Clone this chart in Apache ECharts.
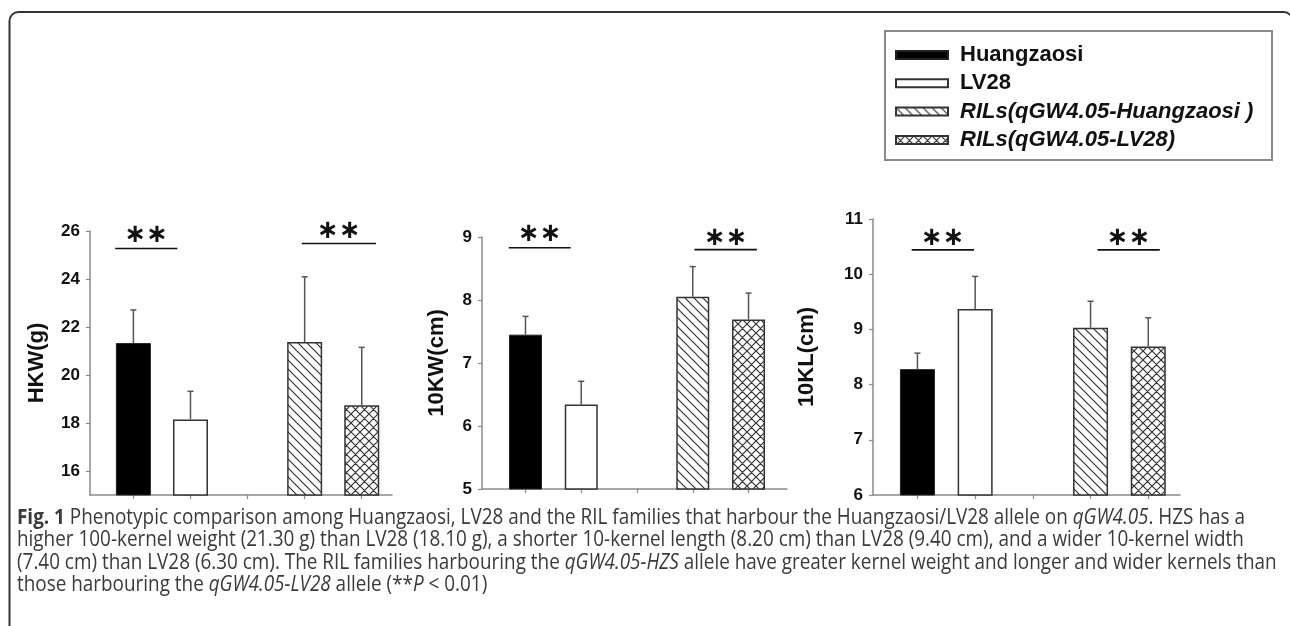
<!DOCTYPE html>
<html>
<head>
<meta charset="utf-8">
<script src="https://cdn.jsdelivr.net/npm/echarts@6/dist/echarts.min.js"></script>
<style>
html, body { margin: 0; padding: 0; background: #fff; }
#main { width: 1290px; height: 626px; }
</style>
</head>
<body>
<div id="main"></div>
<script>
// four groups, one bar each; x = 3 is the empty gap
var seriesNames = ['Huangzaosi', 'LV28', 'RILs(qGW4.05-Huangzaosi )', 'RILs(qGW4.05-LV28)'];
var barPos = [1, 2, 4, 5];

// HKW(g): mean and top of error bar
var hkwMean = [21.33, 18.15, 21.37, 18.74];
var hkwUpper = [22.71, 19.32, 24.09, 21.15];
// 10KW(cm)
var kwMean = [7.45, 6.34, 8.05, 7.69];
var kwUpper = [7.74, 6.71, 8.53, 8.11];
// 10KL(cm)
var klMean = [8.28, 9.37, 9.03, 8.69];
var klUpper = [8.57, 9.96, 9.51, 9.21];

// significance marks: [x from, x to, line y, star y]
var hkwSig = [[0.68, 1.77, 25.27, 25.82], [3.95, 5.25, 25.48, 26.0]];
var kwSig = [[0.70, 1.81, 8.83, 9.04], [4.03, 5.15, 8.80, 8.98]];
var klSig = [[0.90, 1.98, 10.44, 10.66], [4.12, 5.20, 10.44, 10.66]];

// y tick labels
var hkwTicks = [16, 18, 20, 22, 24, 26];
var kwTicks = [5, 6, 7, 8, 9];
var klTicks = [6, 7, 8, 9, 10, 11];
var xTicks = [1, 2, 3, 4, 5];

var FONT = 'Liberation Sans, Arial, sans-serif';
var CAPFONT = 'Open Sans, sans-serif';

function makePattern(cross) {
    var s = 9;
    var c = document.createElement('canvas');
    c.width = s; c.height = s;
    var g = c.getContext('2d');
    g.fillStyle = '#fff';
    g.fillRect(0, 0, s, s);
    g.strokeStyle = '#333';
    g.lineWidth = 1.2;
    g.beginPath();
    // "\" lines
    g.moveTo(-1, -1); g.lineTo(s + 1, s + 1);
    g.moveTo(-1, s - 1); g.lineTo(1, s + 1);
    g.moveTo(s - 1, -1); g.lineTo(s + 1, 1);
    if (cross) {
        // "/" lines
        g.moveTo(-1, s + 1); g.lineTo(s + 1, -1);
        g.moveTo(-1, 1); g.lineTo(1, -1);
        g.moveTo(s - 1, s + 1); g.lineTo(s + 1, s - 1);
    }
    g.stroke();
    return { image: c, repeat: 'repeat' };
}

var barStyles = [
    { color: '#000', borderColor: '#222', borderWidth: 1 },
    { color: '#fff', borderColor: '#333', borderWidth: 1.5 },
    { color: makePattern(false), borderColor: '#333', borderWidth: 1.5 },
    { color: makePattern(true), borderColor: '#333', borderWidth: 1.5 }
];

var panels = [
    { name: 'HKW(g)', mean: hkwMean, upper: hkwUpper, sig: hkwSig, ticks: hkwTicks, min: 15, max: 26,
      grid: { left: 90, top: 231, width: 302, height: 264 }, xMin: 0.24, xMax: 5.53, nameGap: 42, barWidth: 35 },
    { name: '10KW(cm)', mean: kwMean, upper: kwUpper, sig: kwSig, ticks: kwTicks, min: 5, max: 9,
      grid: { left: 482, top: 237, width: 305, height: 252 }, xMin: 0.22, xMax: 5.69, nameGap: 34, barWidth: 33 },
    { name: '10KL(cm)', mean: klMean, upper: klUpper, sig: klSig, ticks: klTicks, min: 6, max: 11,
      grid: { left: 873, top: 219, width: 307, height: 276 }, xMin: 0.23, xMax: 5.55, nameGap: 55, barWidth: 35 }
];

var grids = [], xAxes = [], yAxes = [], series = [];
var axisColor = '#8a8a8a';

panels.forEach(function (p, i) {
    grids.push(p.grid);
    xAxes.push({
        type: 'value', gridIndex: i, min: p.xMin, max: p.xMax,
        axisLine: { show: true, lineStyle: { color: axisColor, width: 1.5 } },
        axisTick: { show: true, length: 4, customValues: xTicks, lineStyle: { color: axisColor, width: 1.2 } },
        axisLabel: { show: false },
        splitLine: { show: false }
    });
    yAxes.push({
        type: 'value', gridIndex: i, min: p.min, max: p.max,
        name: p.name, nameLocation: 'middle', nameGap: p.nameGap,
        nameTextStyle: { fontFamily: FONT, fontWeight: 'bold', fontSize: 22, color: '#111' },
        axisLine: { show: true, lineStyle: { color: axisColor, width: 1.5 } },
        axisTick: { show: true, length: 4, customValues: p.ticks, lineStyle: { color: axisColor, width: 1.2 } },
        axisLabel: { customValues: p.ticks, margin: 10, fontFamily: FONT, fontWeight: 'bold', fontSize: 17, color: '#111' },
        splitLine: { show: false }
    });
    seriesNames.forEach(function (n, j) {
        series.push({
            type: 'bar', name: n, xAxisIndex: i, yAxisIndex: i,
            data: [[barPos[j], p.mean[j]]],
            barWidth: p.barWidth, barGap: '-100%',
            itemStyle: barStyles[j], silent: true
        });
    });
    // error bars (upper half only)
    series.push({
        type: 'custom', xAxisIndex: i, yAxisIndex: i, silent: true, z: 3,
        data: barPos.map(function (x, j) { return [x, p.mean[j], p.upper[j]]; }),
        renderItem: function (params, api) {
            var a = api.coord([api.value(0), api.value(1)]);
            var b = api.coord([api.value(0), api.value(2)]);
            var st = { stroke: '#555', lineWidth: 1.5 };
            return { type: 'group', children: [
                { type: 'line', shape: { x1: a[0], y1: a[1], x2: b[0], y2: b[1] }, style: st },
                { type: 'line', shape: { x1: b[0] - 3, y1: b[1], x2: b[0] + 3, y2: b[1] }, style: st }
            ] };
        }
    });
    // significance lines and stars
    series.push({
        type: 'custom', xAxisIndex: i, yAxisIndex: i, silent: true, z: 3,
        data: p.sig,
        renderItem: function (params, api) {
            var a = api.coord([api.value(0), api.value(2)]);
            var b = api.coord([api.value(1), api.value(2)]);
            var s = api.coord([(api.value(0) + api.value(1)) / 2, api.value(3)]);
            return { type: 'group', children: [
                { type: 'line', shape: { x1: a[0], y1: a[1], x2: b[0], y2: b[1] }, style: { stroke: '#111', lineWidth: 1.6 } },
                { type: 'text', x: s[0], y: s[1], style: { text: '\u2217\u2217', fontFamily: 'DejaVu Sans', fontSize: 26, fontWeight: 'bold',
                    fill: '#111', align: 'center', verticalAlign: 'middle' } }
            ] };
        }
    });
});

var captionStyle = { fontFamily: CAPFONT, fontSize: 21, fill: '#3a3a3a' };
var captionRich = {
    b: { fontFamily: CAPFONT, fontSize: 21, fontWeight: 'bold', color: '#111' },
    i: { fontFamily: CAPFONT, fontSize: 21, fontStyle: 'italic', color: '#3a3a3a' }
};
var captionLines = [
    '{b|Fig. 1} Phenotypic comparison among Huangzaosi, LV28 and the RIL families that harbour the Huangzaosi/LV28 allele on {i|qGW4.05}. HZS has a',
    'higher 100-kernel weight (21.30 g) than LV28 (18.10 g), a shorter 10-kernel length (8.20 cm) than LV28 (9.40 cm), and a wider 10-kernel width',
    '(7.40 cm) than LV28 (6.30 cm). The RIL families harbouring the {i|qGW4.05-HZS} allele have greater kernel weight and longer and wider kernels than',
    'those harbouring the {i|qGW4.05-LV28} allele (**{i|P} < 0.01)'
];

var graphics = [
    { type: 'rect', shape: { x: 9.5, y: 12, width: 1283, height: 700, r: 9 }, style: { fill: 'none', stroke: '#333', lineWidth: 2 }, silent: true },
    { type: 'rect', shape: { x: 885, y: 31, width: 387, height: 129 }, style: { fill: 'none', stroke: '#888', lineWidth: 2 }, silent: true }
];
captionLines.forEach(function (t, k) {
    graphics.push({
        type: 'text', x: 17, y: 518 + k * 22.5, scaleX: 0.9, silent: true,
        style: Object.assign({ text: t, rich: captionRich, verticalAlign: 'middle' }, captionStyle)
    });
});

var myChart = echarts.init(document.getElementById('main'));
myChart.setOption({
    animation: false,
    backgroundColor: '#fff',
    grid: grids,
    xAxis: xAxes,
    yAxis: yAxes,
    legend: {
        orient: 'vertical', left: 895, top: 44, padding: 0, itemWidth: 52, itemHeight: 8, itemGap: 6.3,
        icon: 'rect', selectedMode: false, data: seriesNames,
        formatter: function (n) { return n.indexOf('RILs') === 0 ? '{it|' + n + '}' : n; },
        textStyle: {
            fontFamily: FONT, fontWeight: 'bold', fontSize: 22, color: '#111', lineHeight: 22, padding: [0, 0, 0, 7],
            rich: { it: { fontFamily: FONT, fontWeight: 'bold', fontStyle: 'italic', fontSize: 22, color: '#111', lineHeight: 22 } }
        }
    },
    graphic: graphics,
    series: series
});
</script>
</body>
</html>
